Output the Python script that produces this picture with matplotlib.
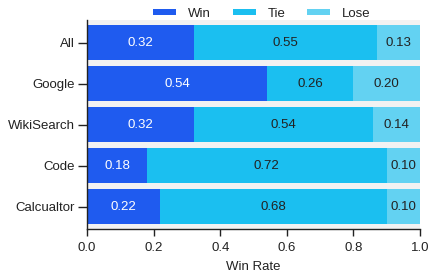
import matplotlib
matplotlib.use('Agg')
import matplotlib.pyplot as plt
import numpy as np

categories = ['All', 'Google', 'WikiSearch', 'Code', 'Calcualtor']
win = [0.32, 0.54, 0.32, 0.18, 0.22]
tie = [0.55, 0.26, 0.54, 0.72, 0.68]
lose = [0.13, 0.20, 0.14, 0.10, 0.10]

plt.rcParams['font.family'] = ['Liberation Sans', 'DejaVu Sans']
plt.rcParams['font.size'] = 9.5

fig = plt.figure(figsize=(4.33, 2.76), dpi=100)
ax = fig.add_axes([0.201, 0.170, 0.769, 0.758])
ax.set_facecolor('#f2f2f2')

y = np.arange(len(categories))
colors = ['#1f5bef', '#1bbff0', '#63d2f2']
left = np.zeros(len(categories))
for vals, color, name in zip([win, tie, lose], colors, ['Win', 'Tie', 'Lose']):
    bars = ax.barh(y, vals, left=left, height=0.86, color=color, label=name)
    txt_color = 'white' if name == 'Win' else '#222222'
    for b, v in zip(bars, vals):
        ax.text(b.get_x() + b.get_width() / 2, b.get_y() + b.get_height() / 2,
                f'{v:.2f}', ha='center', va='center', color=txt_color, fontsize=9.5)
    left += np.array(vals)

ax.set_yticks(y)
ax.set_yticklabels(categories)
ax.set_ylim(len(categories) - 0.45, -0.56)
ax.set_xlim(0, 1.0)
ax.set_xticks([0.0, 0.2, 0.4, 0.6, 0.8, 1.0])
ax.set_xlabel('Win Rate', labelpad=5, color='#222222')
ax.tick_params(axis='x', direction='out', length=5, width=1, pad=4, colors='#222222')
ax.tick_params(axis='y', direction='out', length=6.5, width=1, pad=2, colors='#222222')
for s in ['top', 'right']:
    ax.spines[s].set_visible(False)
for s in ['left', 'bottom']:
    ax.spines[s].set_color('#222222')
    ax.spines[s].set_linewidth(1)

leg = ax.legend(loc='lower center', bbox_to_anchor=(0.525, 0.975), ncol=3, frameon=False,
                handlelength=1.75, handleheight=0.4, columnspacing=1.65, handletextpad=0.9,
                borderaxespad=0, fontsize=9.5)
for t in leg.get_texts():
    t.set_color('#222222')

fig.savefig('out.png', dpi=100)
